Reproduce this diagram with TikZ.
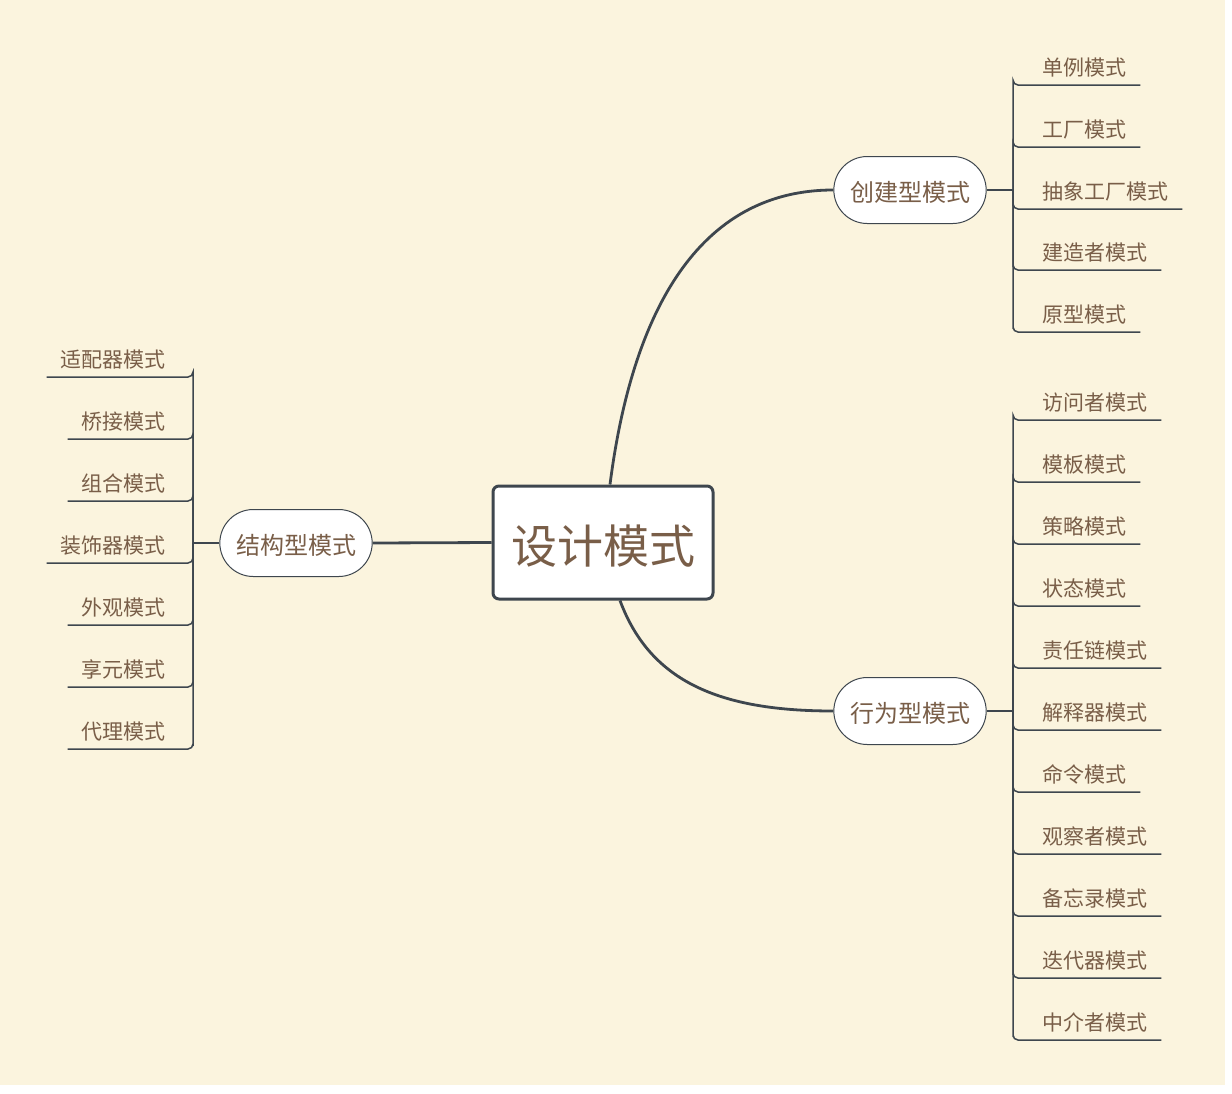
\documentclass[tikz,border=0pt]{standalone}
\usepackage{fontspec}
\setmainfont{Noto Sans CJK SC}
\usepackage{xcolor}
\definecolor{mmcream}{RGB}{251,244,222}
\definecolor{mmbrown}{RGB}{121,94,72}
\definecolor{mmslate}{RGB}{62,70,78}
\usetikzlibrary{shapes.misc}
\tikzset{
  rootbox/.style={draw=mmslate, line width=3pt, rounded corners=6pt, fill=white,
                  text=mmbrown, font=\fontsize{46}{50}\selectfont,
                  minimum width=220, minimum height=113},
  pill/.style={draw=mmslate, line width=1pt, rounded rectangle, fill=white,
               text=mmbrown, font=\fontsize{24}{28}\selectfont,
               minimum width=159, minimum height=67},
  leaf/.style={text=mmbrown, font=\fontsize{21}{24}\selectfont,
               inner xsep=0pt, inner ysep=8pt},
  trunk/.style={draw=mmslate, line width=2.8pt},
  stem/.style={draw=mmslate, line width=2.2pt},
  twig/.style={draw=mmslate, line width=1.5pt, rounded corners=5pt},
}
\begin{document}
\begin{tikzpicture}[x=1pt, y=-1pt]
  % Canvas
  \fill[white] (0,0) rectangle (1232,1093);
  \fill[mmcream] (0,0) rectangle (1225,1085);
  \useasboundingbox (0,0) rectangle (1232,1093);

  % Centre and main branches
  \node[rootbox] (root) at (603,542.5) {\raisebox{-4pt}[\height][\depth]{设计模式}};
  \node[pill] (create) at (910,190) {\raisebox{-2pt}[\height][\depth]{创建型模式}};
  \node[pill] (behave) at (910,711) {\raisebox{-2pt}[\height][\depth]{行为型模式}};
  \node[pill] (struct) at (296,543) {\raisebox{-2pt}[\height][\depth]{结构型模式}};

  \draw[trunk] ([xshift=7pt]root.north) .. controls +(20,-156) and +(-144,0) .. (create.west);
  \draw[trunk] ([xshift=17pt]root.south) .. controls +(30,81) and +(-114,0) .. (behave.west);
  \draw[trunk] (root.west) -- (struct.east);

  % Junctions
  \coordinate (cjun) at (1013,190);
  \coordinate (bjun) at (1013,711);
  \coordinate (sjun) at (193,543);
  \draw[stem] (create.east) -- (cjun);
  \draw[stem] (behave.east) -- (bjun);
  \draw[stem] (struct.west) -- (sjun);

  % Creational patterns
  \node[leaf, anchor=south west] (c1) at (1042,85) {单例模式};
  \node[leaf, anchor=south west] (c2) at (1042,147) {工厂模式};
  \node[leaf, anchor=south west] (c3) at (1042,209) {抽象工厂模式};
  \node[leaf, anchor=south west] (c4) at (1042,270) {建造者模式};
  \node[leaf, anchor=south west] (c5) at (1042,332) {原型模式};

  \draw[twig] (cjun) |- ([xshift=-29pt]c1.south west) -- ([xshift=14pt]c1.south east);
  \draw[twig] (cjun) |- ([xshift=-29pt]c2.south west) -- ([xshift=14pt]c2.south east);
  \draw[twig] (cjun) |- ([xshift=-29pt]c3.south west) -- ([xshift=14pt]c3.south east);
  \draw[twig] (cjun) |- ([xshift=-29pt]c4.south west) -- ([xshift=14pt]c4.south east);
  \draw[twig] (cjun) |- ([xshift=-29pt]c5.south west) -- ([xshift=14pt]c5.south east);

  % Behavioural patterns
  \node[leaf, anchor=south west] (b1) at (1042,420) {访问者模式};
  \node[leaf, anchor=south west] (b2) at (1042,482) {模板模式};
  \node[leaf, anchor=south west] (b3) at (1042,544) {策略模式};
  \node[leaf, anchor=south west] (b4) at (1042,606) {状态模式};
  \node[leaf, anchor=south west] (b5) at (1042,668) {责任链模式};
  \node[leaf, anchor=south west] (b6) at (1042,730) {解释器模式};
  \node[leaf, anchor=south west] (b7) at (1042,792) {命令模式};
  \node[leaf, anchor=south west] (b8) at (1042,854) {观察者模式};
  \node[leaf, anchor=south west] (b9) at (1042,916) {备忘录模式};
  \node[leaf, anchor=south west] (b10) at (1042,978) {迭代器模式};
  \node[leaf, anchor=south west] (b11) at (1042,1040) {中介者模式};

  \draw[twig] (bjun) |- ([xshift=-29pt]b1.south west) -- ([xshift=14pt]b1.south east);
  \draw[twig] (bjun) |- ([xshift=-29pt]b2.south west) -- ([xshift=14pt]b2.south east);
  \draw[twig] (bjun) |- ([xshift=-29pt]b3.south west) -- ([xshift=14pt]b3.south east);
  \draw[twig] (bjun) |- ([xshift=-29pt]b4.south west) -- ([xshift=14pt]b4.south east);
  \draw[twig] (bjun) |- ([xshift=-29pt]b5.south west) -- ([xshift=14pt]b5.south east);
  \draw[twig] (bjun) |- ([xshift=-29pt]b6.south west) -- ([xshift=14pt]b6.south east);
  \draw[twig] (bjun) |- ([xshift=-29pt]b7.south west) -- ([xshift=14pt]b7.south east);
  \draw[twig] (bjun) |- ([xshift=-29pt]b8.south west) -- ([xshift=14pt]b8.south east);
  \draw[twig] (bjun) |- ([xshift=-29pt]b9.south west) -- ([xshift=14pt]b9.south east);
  \draw[twig] (bjun) |- ([xshift=-29pt]b10.south west) -- ([xshift=14pt]b10.south east);
  \draw[twig] (bjun) |- ([xshift=-29pt]b11.south west) -- ([xshift=14pt]b11.south east);

  % Structural patterns
  \node[leaf, anchor=south east] (s1) at (166,377) {适配器模式};
  \node[leaf, anchor=south east] (s2) at (166,439) {桥接模式};
  \node[leaf, anchor=south east] (s3) at (166,501) {组合模式};
  \node[leaf, anchor=south east] (s4) at (166,563) {装饰器模式};
  \node[leaf, anchor=south east] (s5) at (166,625) {外观模式};
  \node[leaf, anchor=south east] (s6) at (166,687) {享元模式};
  \node[leaf, anchor=south east] (s7) at (166,749) {代理模式};

  \draw[twig] (sjun) |- ([xshift=27pt]s1.south east) -- ([xshift=-14pt]s1.south west);
  \draw[twig] (sjun) |- ([xshift=27pt]s2.south east) -- ([xshift=-14pt]s2.south west);
  \draw[twig] (sjun) |- ([xshift=27pt]s3.south east) -- ([xshift=-14pt]s3.south west);
  \draw[twig] (sjun) |- ([xshift=27pt]s4.south east) -- ([xshift=-14pt]s4.south west);
  \draw[twig] (sjun) |- ([xshift=27pt]s5.south east) -- ([xshift=-14pt]s5.south west);
  \draw[twig] (sjun) |- ([xshift=27pt]s6.south east) -- ([xshift=-14pt]s6.south west);
  \draw[twig] (sjun) |- ([xshift=27pt]s7.south east) -- ([xshift=-14pt]s7.south west);
\end{tikzpicture}
\end{document}
